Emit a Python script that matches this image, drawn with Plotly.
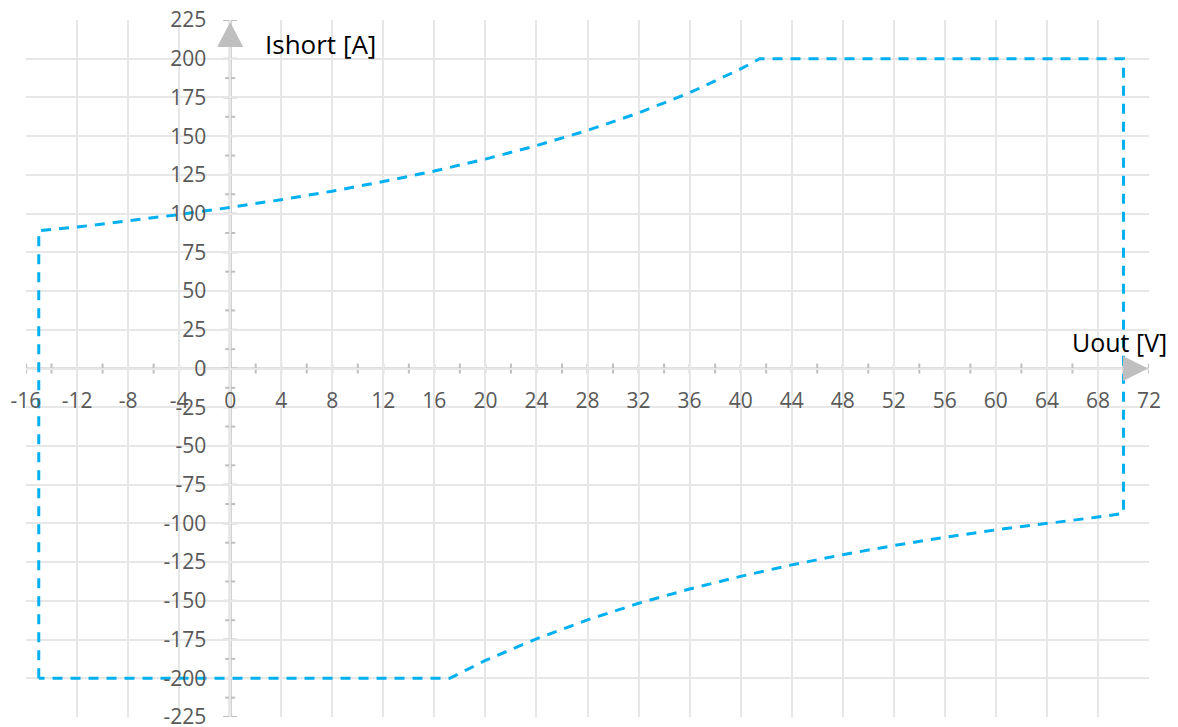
import plotly.graph_objects as go

# ---- data ----
U_MIN, U_MAX = -16, 72
I_MIN, I_MAX = -225, 225
x_tick_vals = list(range(-16, 73, 4))
x_minor_vals = list(range(-16, 73, 2))
y_tick_vals = list(range(-225, 226, 25))
y_minor_vals = [v + 12.5 for v in range(-225, 225, 25)]

# upper limit curve (positive current)
top_u = [-15, -12, -8, -4, 0, 4, 8, 12, 16, 20, 24, 28, 32, 36, 40, 41.5]
top_i = [89, 91.3, 95.2, 99.4, 104, 109, 114.5, 120.7, 127.5, 135.2, 143.9, 153.7, 165, 178, 193.4, 200]
# upper flat limit and right edge
right_u = [70, 70]
right_i = [200, -93.5]
# lower limit curve (negative current)
bot_u = [68, 64, 60, 56, 52, 48, 44, 40, 36, 32, 28, 24, 20, 17.2]
bot_i = [-95.9, -99.9, -104.2, -109, -114.3, -120.2, -126.8, -134.2, -142.4, -151.6, -162.3, -174.5, -188.5, -200]
# lower flat limit and left edge
left_u = [-15, -15]
left_i = [-200, 89]

path_u = left_u + top_u[1:] + right_u + bot_u + [left_u[0]]
path_i = left_i + top_i[1:] + right_i + bot_i + [left_i[0]]

AXIS_GRAY = "#BFBFBF"
GRID_GRAY = "#E7E7E7"
LINE_BLUE = "#00B0F0"
FONT = "Open Sans"

fig = go.Figure()
fig.add_trace(go.Scatter(
    x=path_u, y=path_i, mode="lines",
    line=dict(color=LINE_BLUE, width=3, dash="10px,8px"),
    hoverinfo="skip", showlegend=False,
))

shapes = []
# axis lines
shapes.append(dict(type="line", xref="x", yref="y", x0=0, x1=0, y0=I_MIN, y1=I_MAX,
                   line=dict(color=AXIS_GRAY, width=3), layer="below"))
shapes.append(dict(type="line", xref="x", yref="y", x0=U_MIN, x1=U_MAX, y0=0, y1=0,
                   line=dict(color=AXIS_GRAY, width=2), layer="below"))
# x-axis tick marks (crossing)
for v in x_minor_vals:
    shapes.append(dict(type="line", xref="x", yref="y", ysizemode="pixel", yanchor=0,
                       x0=v, x1=v, y0=-5, y1=5, line=dict(color=AXIS_GRAY, width=2), layer="below"))
# y-axis tick marks (crossing)
for v in y_tick_vals:
    shapes.append(dict(type="line", xref="x", yref="y", xsizemode="pixel", xanchor=0,
                       x0=-7, x1=7, y0=v, y1=v, line=dict(color=AXIS_GRAY, width=2), layer="below"))
for v in y_minor_vals:
    shapes.append(dict(type="line", xref="x", yref="y", xsizemode="pixel", xanchor=0,
                       x0=-5, x1=5, y0=v, y1=v, line=dict(color=AXIS_GRAY, width=2), layer="below"))
# arrow heads
shapes.append(dict(type="path", xref="x", yref="y", xsizemode="pixel", ysizemode="pixel",
                   xanchor=0, yanchor=I_MAX, path="M-13,-27 L13,-27 L0,-2 Z",
                   fillcolor=AXIS_GRAY, line=dict(width=0)))
shapes.append(dict(type="path", xref="x", yref="y", xsizemode="pixel", ysizemode="pixel",
                   xanchor=U_MAX, yanchor=0, path="M-26,-12.5 L-26,12.5 L-1,0 Z",
                   fillcolor=AXIS_GRAY, line=dict(width=0)))

annotations = [
    dict(text="Ishort [A]", xref="x", yref="y", x=0, y=I_MAX, xanchor="left", yanchor="top",
         xshift=33, yshift=-4, showarrow=False, font=dict(family=FONT, size=26, color="#000000")),
    dict(text="Uout [V]", xref="x", yref="y", x=U_MAX, y=0, xanchor="right", yanchor="bottom",
         xshift=20, yshift=8, showarrow=False, font=dict(family=FONT, size=25, color="#000000")),
]

# page body has an 8px default margin, so the figure is 8px smaller than the window
fig.update_layout(
    width=1170, height=719,
    margin=dict(l=18, r=29, t=12, b=10, autoexpand=False),
    paper_bgcolor="white", plot_bgcolor="white",
    shapes=shapes, annotations=annotations,
    xaxis=dict(range=[U_MIN, U_MAX], tickvals=x_tick_vals, ticktext=[str(v) for v in x_tick_vals],
               showgrid=True, gridcolor=GRID_GRAY, gridwidth=1.5, zeroline=False, showline=False,
               anchor="free", position=0.5, ticks="", ticklabelstandoff=17,
               ticklabeloverflow="allow",
               tickfont=dict(family=FONT, size=21, color="#595959"), automargin=False),
    yaxis=dict(range=[I_MIN, I_MAX], tickvals=y_tick_vals, ticktext=[str(v) for v in y_tick_vals],
               showgrid=True, gridcolor=GRID_GRAY, gridwidth=1.5, zeroline=False, showline=False,
               anchor="free", position=(0 - U_MIN) / (U_MAX - U_MIN), ticks="", ticklabelstandoff=24,
               ticklabeloverflow="allow",
               tickfont=dict(family=FONT, size=21, color="#595959"), automargin=False),
)

fig.write_html("out.html")
